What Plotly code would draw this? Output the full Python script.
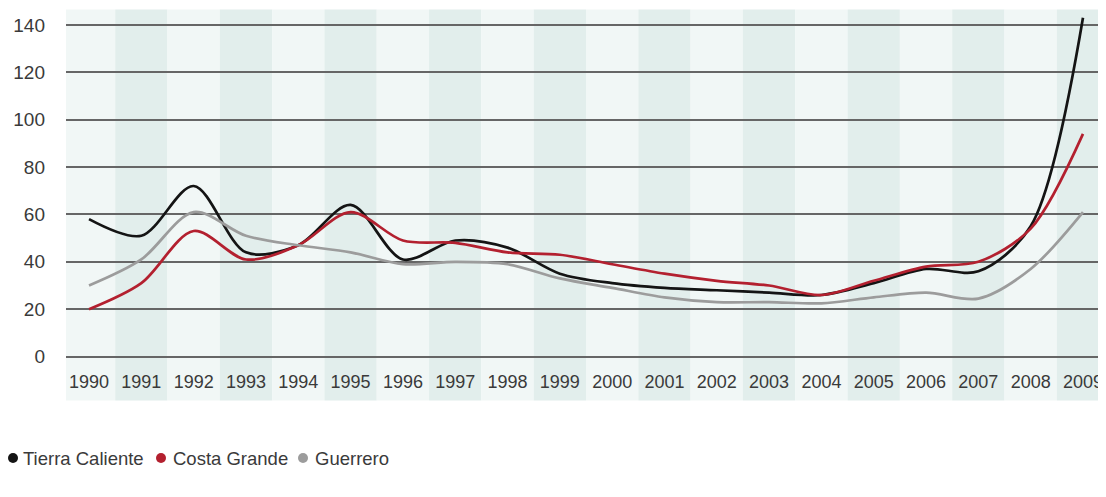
import plotly.graph_objects as go

years = list(range(1990, 2010))
tierra_caliente = [58, 51, 72, 44, 47, 64, 41, 49, 46, 35, 31, 29, 28, 27, 26, 31, 37, 36, 55, 143]
costa_grande = [20, 31, 53, 41, 47, 61, 49, 48, 44, 43, 39, 35, 32, 30, 26, 32, 38, 40, 54, 94]
guerrero = [30, 41, 61, 51, 47, 44, 39, 40, 39, 33, 29, 25, 23, 23, 22.5, 25, 27, 24.5, 37, 61]
y_ticks = [0, 20, 40, 60, 80, 100, 120, 140]

series = [
    ("Tierra Caliente", tierra_caliente, "#141414"),
    ("Costa Grande", costa_grande, "#b3202f"),
    ("Guerrero", guerrero, "#9c9c9c"),
]

# page body has an 8px margin; figure coords are shifted accordingly
W, H = 1098, 489
L, R, T, B = 58, 0, 5, 138
pw, ph = W - L - R, H - T - B

fig = go.Figure()
for name, vals, col in series:
    fig.add_trace(go.Scatter(x=years, y=vals, mode="lines", name=name,
                             line=dict(color=col, width=2.7, shape="spline", smoothing=0.9),
                             showlegend=False))

shapes = []
for yr in years:
    shapes.append(dict(type="rect", xref="x", yref="paper", x0=yr - 0.5, x1=yr + 0.5,
                       y0=-0.12, y1=1.01, layer="below", line=dict(width=0),
                       fillcolor="#e2eeec" if yr % 2 else "#f1f7f6"))

# legend row: dot centres and label left edges, in figure pixels
dot_px = [5, 153, 295]
label_px = [13, 163, 305]
leg_y = (351 - 450) / ph
annotations = []
for (name, vals, col), dx, lx in zip(series, dot_px, label_px):
    shapes.append(dict(type="circle", xref="paper", yref="paper",
                       xsizemode="pixel", ysizemode="pixel",
                       xanchor=(dx - L) / pw, yanchor=leg_y,
                       x0=-5, x1=5, y0=-5, y1=5,
                       fillcolor=col, line=dict(width=0)))
    annotations.append(dict(
        xref="paper", yref="paper", x=(lx - L) / pw, y=leg_y,
        xanchor="left", yanchor="middle", showarrow=False,
        text=name, font=dict(size=18.5, color="#3a3a3a")))

fig.update_layout(
    width=W, height=H,
    margin=dict(l=L, r=R, t=T, b=B, autoexpand=False),
    paper_bgcolor="white", plot_bgcolor="rgba(0,0,0,0)",
    font=dict(family="Liberation Sans, Arial, sans-serif", size=19, color="#3a3a3a"),
    shapes=shapes, annotations=annotations, showlegend=False,
    xaxis=dict(range=[1989.56, 2009.44], tickmode="array", tickvals=years,
               ticktext=[str(y) for y in years], showgrid=False, zeroline=False,
               showline=False, ticks="", ticklabelstandoff=10, fixedrange=True,
               automargin=False, tickfont=dict(size=18)),
    yaxis=dict(range=[-1, 145], tickmode="array", tickvals=y_ticks,
               showgrid=True, gridcolor="#666666", gridwidth=2, zeroline=False,
               showline=False, ticks="", ticklabelstandoff=20, fixedrange=True,
               automargin=False),
)

fig.write_html("out.html")
